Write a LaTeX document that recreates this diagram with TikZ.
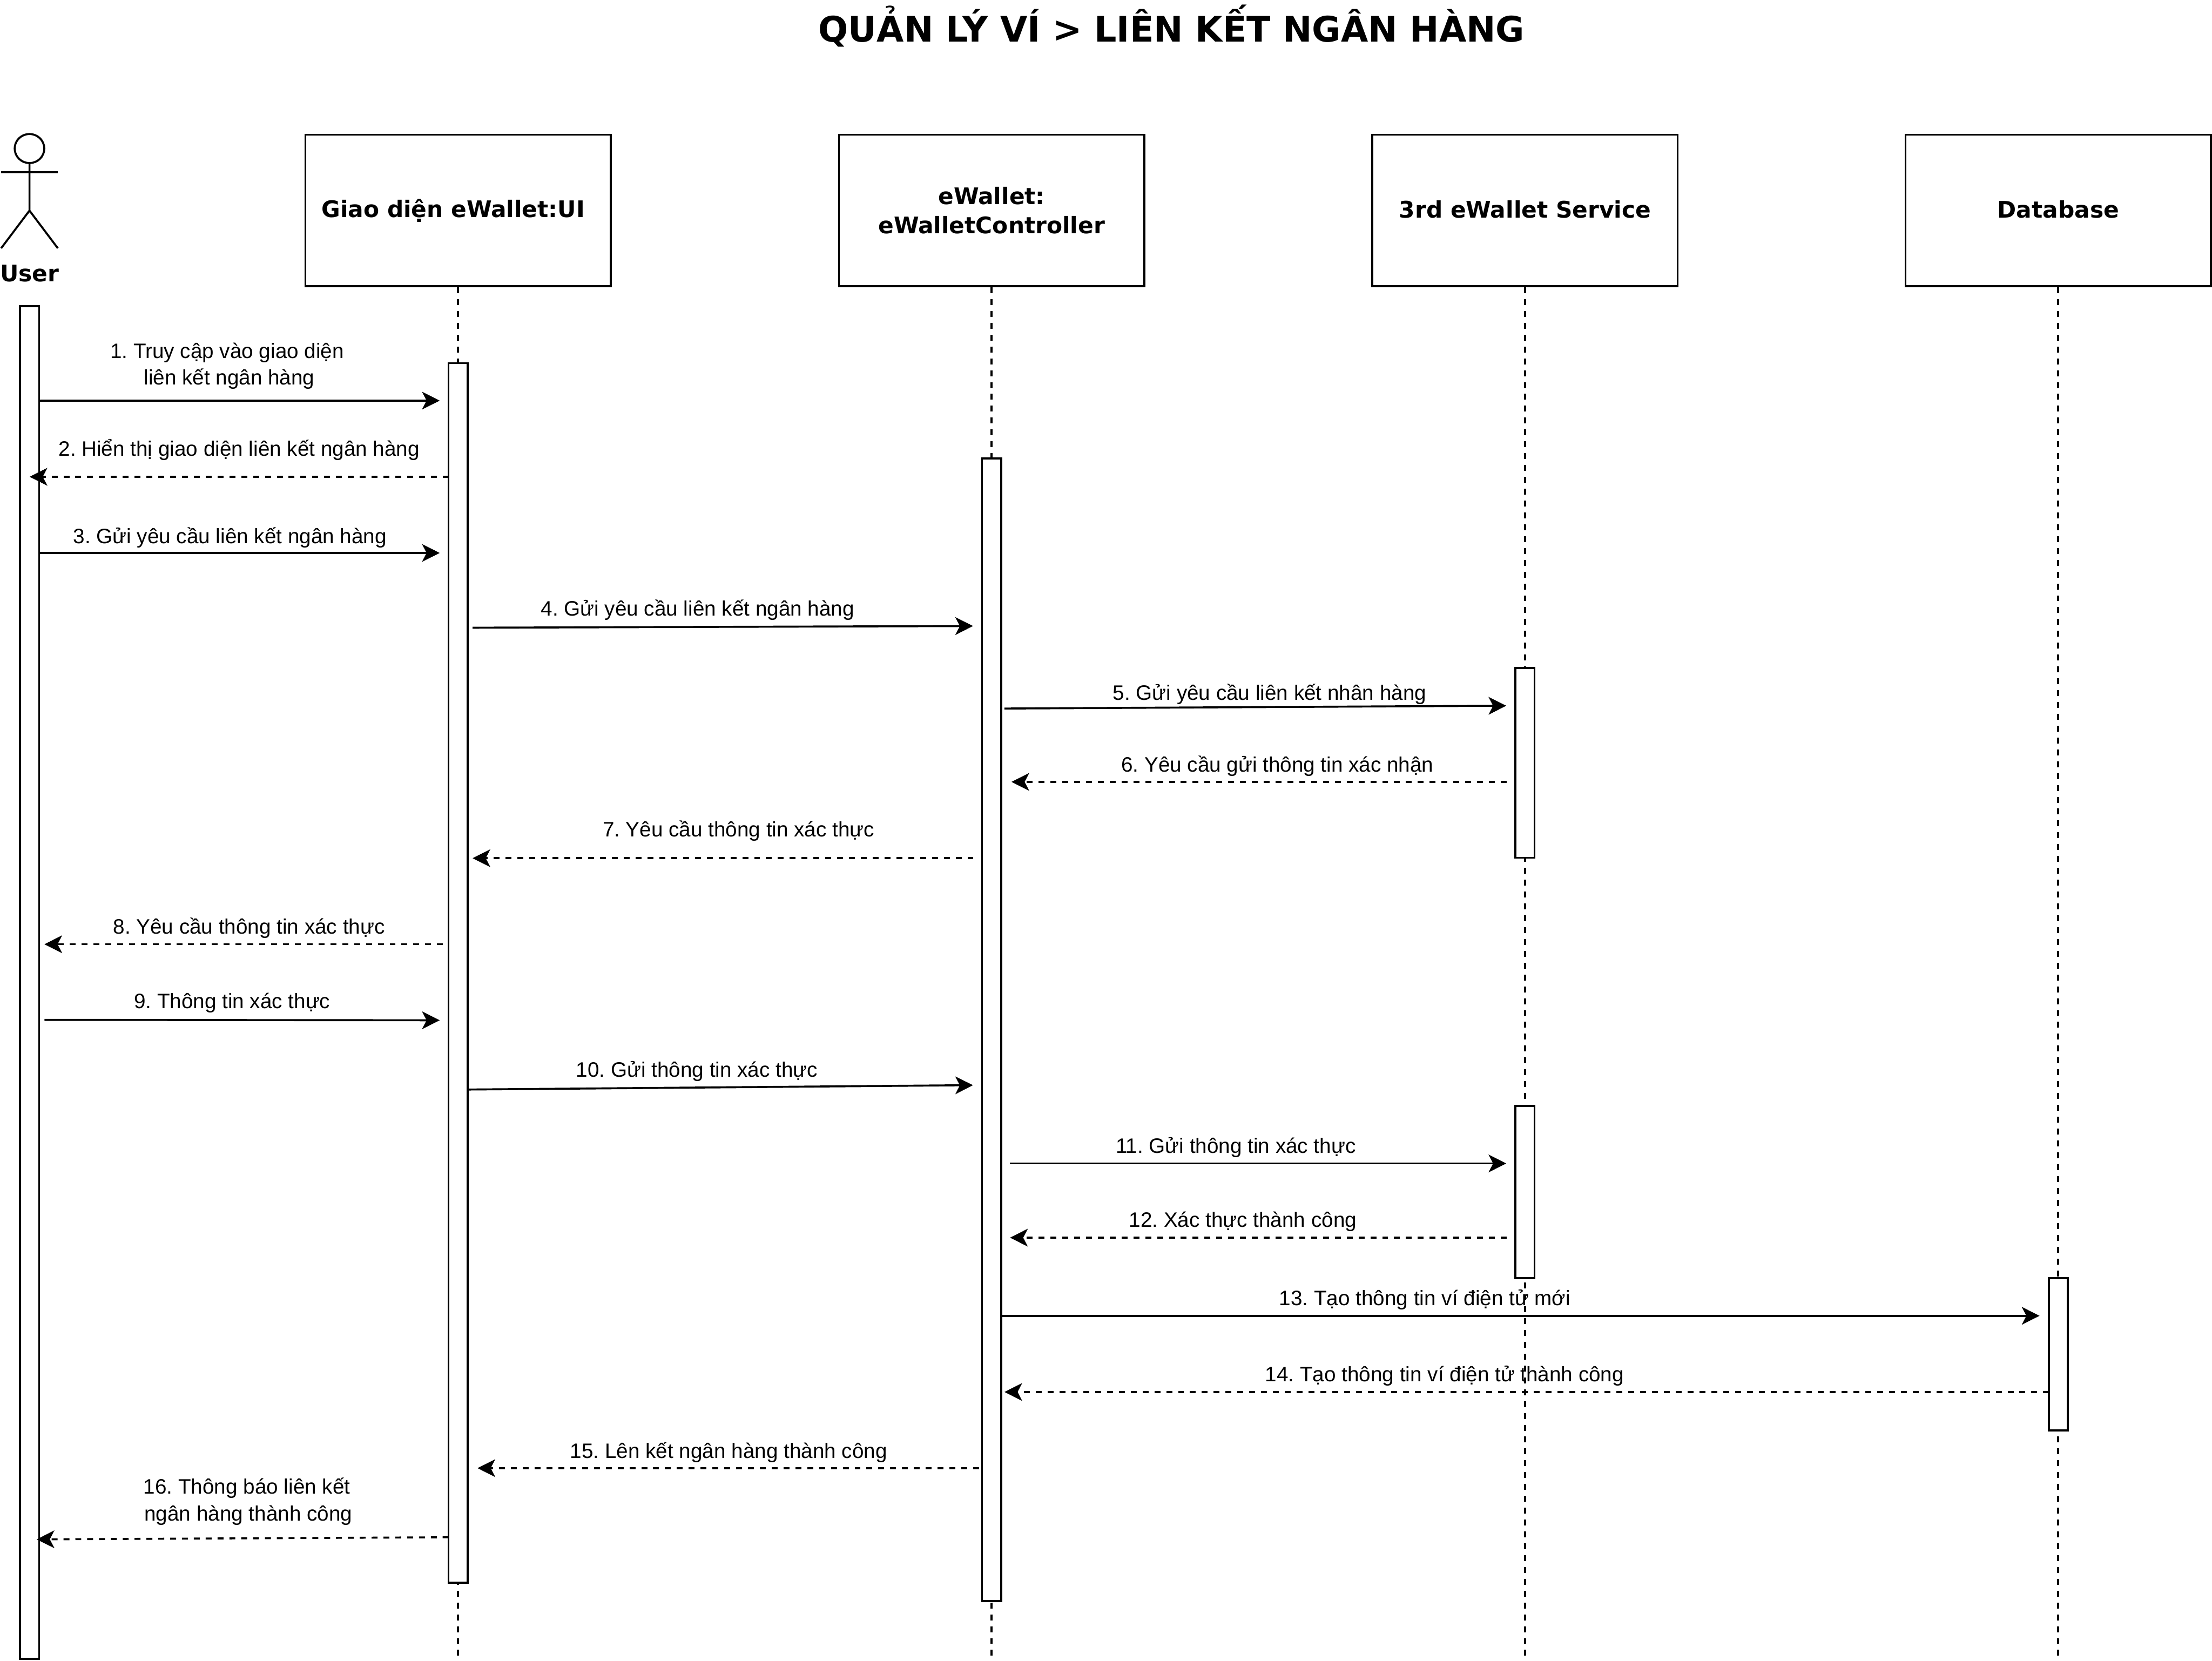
\documentclass[tikz,border=0pt]{standalone}
\usepackage{fontspec}
\setmainfont{Liberation Sans}
\newfontfamily\headfont{DejaVu Sans}[BoldFont={DejaVu Sans Bold}]
\usetikzlibrary{arrows.meta}
\tikzset{
  ln/.style={line width=1.4pt,draw=black},
  classbox/.style={ln,fill=white,minimum width=216.5pt,minimum height=107.5pt,inner sep=0pt,align=center,font=\headfont\fontsize{16.2}{20.5}\selectfont\bfseries},
  actbox/.style={ln,fill=white,minimum width=13.5pt,inner sep=0pt},
  lifeln/.style={ln,dash pattern=on 4.2pt off 4.2pt},
  sync/.style={ln,-{Stealth[length=12.5pt,width=12.5pt,inset=3.2pt]}},
  reply/.style={sync,dash pattern=on 4.2pt off 4.2pt},
  msg/.style={inner sep=0pt,align=center,font=\frenchspacing\fontsize{14.8}{19}\selectfont,text=black},
}
\begin{document}
\begin{tikzpicture}[x=1pt,y=-1pt]
\useasboundingbox (0,0) rectangle (1568,1177.5);
\fill[white] (0,0) rectangle (1568,1177.5);
\node[inner sep=0pt,font=\headfont\fontsize{24.9}{30}\selectfont\bfseries] (title) at (830.5,18.5) {QUẢN LÝ VÍ > LIÊN KẾT NGÂN HÀNG};

% actor
\draw[ln] (20.9,105.3) ellipse (10.5 and 10.3);
\coordinate (neck) at (20.9,115.6);
\coordinate (hip) at (20.9,149.3);
\coordinate (armL) at (0.8,122);
\coordinate (armR) at (41,122);
\coordinate (legL) at (0.8,176);
\coordinate (legR) at (41,176);
\draw[ln] (neck) -- (hip) (armL) -- (armR) (legL) -- (hip) -- (legR);
\node[inner sep=0pt,font=\headfont\fontsize{16.2}{20}\selectfont\bfseries] (userlabel) at (21,194) {User};

% class boxes
\node[classbox] (ui) at (324.7,149.2) {\raisebox{1pt}{\hspace*{-7pt}Giao diện eWallet:UI}};
\node[classbox] (ctrl) at (702.9,149.2) {eWallet:\\eWalletController};
\node[classbox] (svc) at (1081,149.2) {\raisebox{2pt}{3rd eWallet Service}};
\node[classbox] (db) at (1459,149.2) {\raisebox{2pt}{Database}};

% lifeline ends
\coordinate (uiEnd) at (324.7,1176);
\coordinate (ctrlEnd) at (702.9,1176);
\coordinate (svcEnd) at (1081,1176);
\coordinate (dbEnd) at (1459,1176);
\draw[lifeln] (ui.south) -- (uiEnd);
\draw[lifeln] (ctrl.south) -- (ctrlEnd);
\draw[lifeln] (svc.south) -- (svcEnd);
\draw[lifeln] (db.south) -- (dbEnd);

% activations
\node[actbox,minimum height=959pt] (aUser) at (21,696.5) {};
\node[actbox,minimum height=864.5pt] (aUi) at (324.7,689.7) {};
\node[actbox,minimum height=810pt] (aCtrl) at (702.9,730) {};
\node[actbox,minimum height=134.5pt] (aSvcA) at (1081,540.8) {};
\node[actbox,minimum height=122pt] (aSvcB) at (1081,845) {};
\node[actbox,minimum height=108pt] (aDb) at (1459,960) {};

% message ends
\foreach \n/\x/\y in {
 a1/27.5/284, b1/311.7/284,
 a2/318/338, b2/21/338,
 a3/27.5/392, b3/311.7/392,
 a4/335/445, b4/689.7/443.8,
 a5/712/502.3, b5/1067.7/500.3,
 a6/1068/554.3, b6/717/554.3,
 a7/690/608.4, b7/335/608.4,
 a8/314/669.4, b8/31.5/669.4,
 a9/31.5/723, b9/311.7/723.3,
 a10/331.5/772.4, b10/689.7/769.3,
 a11/716/824.8, b11/1067.7/824.8,
 a12/1068/877.4, b12/716/877.4,
 a13/709.5/932.8, b13/1445.7/932.8,
 a14/1452.5/986.8, b14/712/986.8,
 a15/694/1040.8, b15/338.5/1040.8,
 a16/318/1089.8, b16/26/1091.3}
 {\coordinate (\n) at (\x,\y);}

\draw[sync] (a1) -- (b1);
\draw[reply] (a2) -- (b2);
\draw[sync] (a3) -- (b3);
\draw[sync] (a4) -- (b4);
\draw[sync] (a5) -- (b5);
\draw[reply] (a6) -- (b6);
\draw[reply] (a7) -- (b7);
\draw[reply] (a8) -- (b8);
\draw[sync] (a9) -- (b9);
\draw[sync] (a10) -- (b10);
\draw[sync] (a11) -- (b11);
\draw[reply] (a12) -- (b12);
\draw[sync] (a13) -- (b13);
\draw[reply] (a14) -- (b14);
\draw[reply] (a15) -- (b15);
\draw[reply] (a16) -- (b16);

% labels
\node[msg] (m1) at (161,259.5) {1. Truy cập vào giao diện\\\hspace*{3pt}liên kết ngân hàng};
\node[msg] (m2) at (169.5,319) {2. Hiển thị giao diện liên kết ngân hàng};
\node[msg] (m3) at (163,381) {3. Gửi yêu cầu liên kết ngân hàng};
\node[msg] (m4) at (494.5,432.5) {4. Gửi yêu cầu liên kết ngân hàng};
\node[msg] (m5) at (900,492) {5. Gửi yêu cầu liên kết nhân hàng};
\node[msg] (m6) at (905.5,543) {6. Yêu cầu gửi thông tin xác nhận};
\node[msg] (m7) at (523.5,589) {7. Yêu cầu thông tin xác thực};
\node[msg] (m8) at (176.5,658) {8. Yêu cầu thông tin xác thực};
\node[msg] (m9) at (164.5,711) {9. Thông tin xác thực};
\node[msg] (m10) at (494,759.5) {10. Gửi thông tin xác thực};
\node[msg] (m11) at (876,813.5) {11. Gửi thông tin xác thực};
\node[msg] (m12) at (881,866) {12. Xác thực thành công};
\node[msg] (m13) at (1010,921.5) {13. Tạo thông tin ví điện tử mới};
\node[msg] (m14) at (1024,975.5) {14. Tạo thông tin ví điện tử thành công};
\node[msg] (m15) at (516.5,1029.5) {15. Lên kết ngân hàng thành công};
\node[msg] (m16) at (175,1064.5) {16. Thông báo liên kết\\\hspace*{2pt}ngân hàng thành công};
\end{tikzpicture}
\end{document}
